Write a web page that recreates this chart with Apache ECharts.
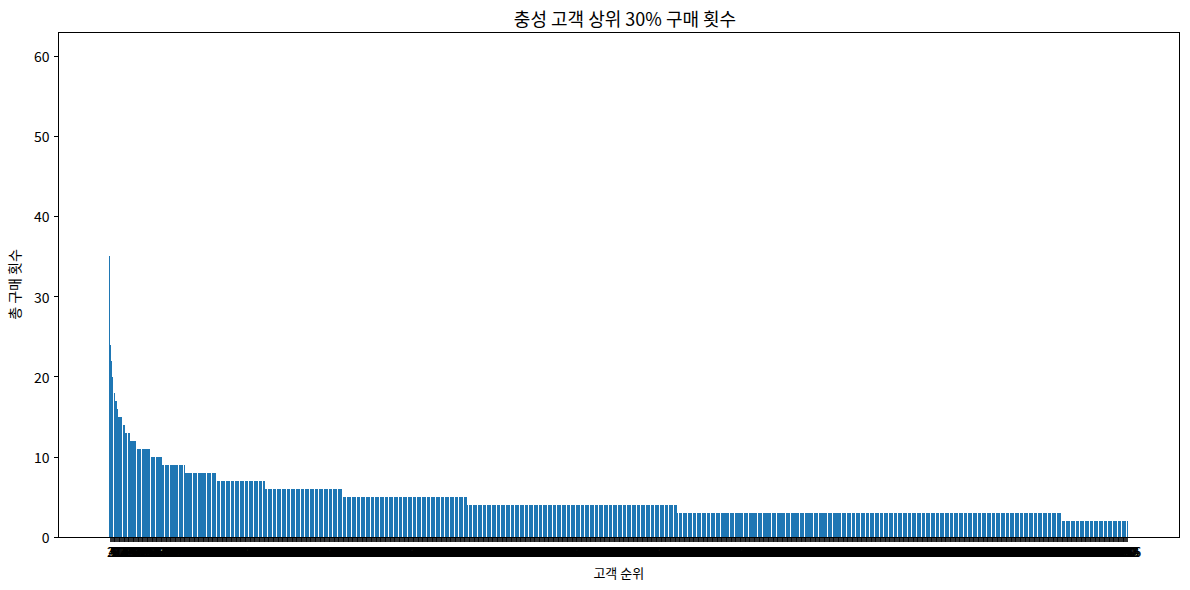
<!DOCTYPE html>
<html><head><meta charset="utf-8">
<script src="https://cdn.jsdelivr.net/npm/echarts@6/dist/echarts.min.js"></script>
<style>
html,body{margin:0;padding:0;background:#fff}
#chart{width:1190px;height:590px}
#chart svg path{shape-rendering:crispEdges}
</style></head><body><div id="chart"></div>
<script>
// purchase-count levels (descending) and how many customers sit at each level
const purchaseLevels = [35, 24, 22, 20, 18, 17, 16, 15, 14, 13, 12, 11, 10, 9, 8, 7, 6, 5, 4, 3, 2];
const customerCounts = [1, 1, 1, 2, 2, 2, 2, 4, 4, 6, 9, 15, 15, 28, 39, 58, 93, 152, 255, 468, 80];
const yTicks = [0, 10, 20, 30, 40, 50, 60];
const titleText = '충성 고객 상위 30% 구매 횟수';
const xName = '고객 순위';
const yName = '총 구매 횟수';

const purchases = [];
purchaseLevels.forEach((v, i) => { for (let k = 0; k < customerCounts[i]; k++) purchases.push(v); });
const N = purchases.length;
const rankLabels = purchases.map((_, i) => String(i + 1));
const positions = purchases.map((_, i) => i);
const seriesData = purchases.map((v, i) => [i, v]);
const span = (N - 1) + 0.8;
const xMin = -0.4 - 0.05 * span;
const xMax = (N - 1) + 0.4 + 0.05 * span;

const FONT = '"Noto Sans CJK KR", "Noto Sans", sans-serif';
const chart = echarts.init(document.getElementById('chart'), null, {renderer: 'svg'});
chart.setOption({
  animation: false,
  backgroundColor: '#ffffff',
  textStyle: {fontFamily: FONT, color: '#000'},
  title: {
    text: titleText, left: 620, textAlign: 'center', top: 4,
    textStyle: {fontFamily: FONT, fontSize: 18, fontWeight: 'normal', color: '#000'}
  },
  grid: {
    left: 58.5, right: 11, top: 32, bottom: 53,
    show: true, borderColor: '#000', borderWidth: 1, backgroundColor: 'transparent',
    outerBoundsMode: 'none', containLabel: false
  },
  xAxis: {
    type: 'value', min: xMin, max: xMax,
    name: xName, nameLocation: 'middle', nameGap: 29,
    nameTextStyle: {fontFamily: FONT, fontSize: 13, color: '#000'},
    axisLine: {show: true, onZero: false, lineStyle: {color: '#000', width: 1}},
    axisTick: {show: true, length: 5, lineStyle: {color: '#000', width: 0.8}, customValues: positions},
    axisLabel: {
      show: true, customValues: positions, margin: 8, hideOverlap: false,
      fontFamily: FONT, fontSize: 13, color: '#000',
      formatter: v => rankLabels[Math.round(v)]
    },
    splitLine: {show: false}
  },
  yAxis: {
    type: 'value', min: 0, max: 63,
    name: yName, nameLocation: 'middle', nameGap: 38, nameRotate: 90,
    nameTextStyle: {fontFamily: FONT, fontSize: 14, color: '#000'},
    axisLine: {show: true, onZero: false, lineStyle: {color: '#000', width: 1}},
    axisTick: {show: true, length: 5, lineStyle: {color: '#000'}, customValues: yTicks},
    axisLabel: {customValues: yTicks, margin: 9, fontFamily: FONT, fontSize: 14, color: '#000'},
    splitLine: {show: false}
  },
  series: [{
    type: 'bar', data: seriesData, barWidth: '80%', barMinWidth: 0.1,
    itemStyle: {color: '#1f77b4'}, emphasis: {disabled: true}
  }]
});
</script></body></html>
